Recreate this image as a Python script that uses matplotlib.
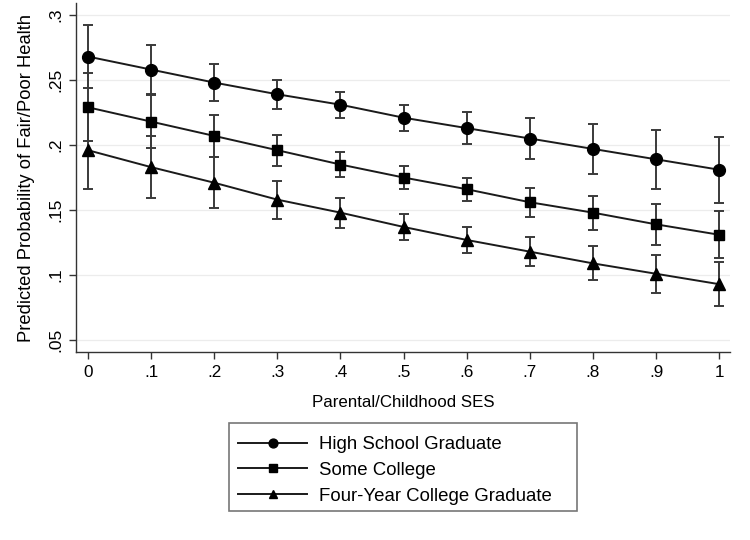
import matplotlib
matplotlib.use("Agg")
import matplotlib.pyplot as plt
from matplotlib.patches import Rectangle
import numpy as np

plt.rcParams['font.family'] = ['Liberation Sans', 'DejaVu Sans']

# ── Data ─────────────────────────────────────────────────────────────────────
ses = [0.0, 0.1, 0.2, 0.3, 0.4, 0.5, 0.6, 0.7, 0.8, 0.9, 1.0]

hs_prob = [0.268, 0.258, 0.248, 0.239, 0.231, 0.221, 0.213, 0.205, 0.197, 0.189, 0.181]
hs_err  = [0.024, 0.019, 0.0145, 0.011, 0.010, 0.010, 0.0125, 0.016, 0.019, 0.0225, 0.0255]

sc_prob = [0.229, 0.218, 0.207, 0.196, 0.185, 0.175, 0.166, 0.156, 0.148, 0.139, 0.131]
sc_err  = [0.026, 0.0205, 0.016, 0.012, 0.0098, 0.0085, 0.009, 0.011, 0.013, 0.0155, 0.018]

fy_prob = [0.196, 0.183, 0.171, 0.158, 0.148, 0.137, 0.127, 0.118, 0.109, 0.101, 0.093]
fy_err  = [0.030, 0.024, 0.0195, 0.0145, 0.0115, 0.010, 0.010, 0.011, 0.013, 0.0146, 0.017]

series_labels = ['High School Graduate', 'Some College', 'Four-Year College Graduate']
x_ticks = [0.0, 0.1, 0.2, 0.3, 0.4, 0.5, 0.6, 0.7, 0.8, 0.9, 1.0]
x_ticklabels = ['0', '.1', '.2', '.3', '.4', '.5', '.6', '.7', '.8', '.9', '1']
y_ticks = [0.05, 0.10, 0.15, 0.20, 0.25, 0.30]
y_ticklabels = ['.05', '.1', '.15', '.2', '.25', '.3']

# ── Figure ───────────────────────────────────────────────────────────────────
fig = plt.figure(figsize=(7.5, 5.4), dpi=100, facecolor='white')
ax = fig.add_axes([0.1013, 0.348, 0.872, 0.646])

series = [(hs_prob, hs_err, 'o', 8.5),
          (sc_prob, sc_err, 's', 7.5),
          (fy_prob, fy_err, '^', 8.0)]

handles = []
for (p, e, m, ms), lab in zip(series, series_labels):
    ax.errorbar(ses, p, yerr=e, fmt='none', ecolor='#3a3a3a',
                elinewidth=1.4, capsize=3.5, capthick=1.4, zorder=2)
    h, = ax.plot(ses, p, color='#1a1a1a', lw=1.4, marker=m, ms=ms,
                 mfc='black', mec='black', label=lab, zorder=3)
    handles.append(h)

ax.set_xlim(-0.019, 1.017)
ax.set_ylim(0.0408, 0.309)
ax.set_xticks(x_ticks)
ax.set_xticklabels(x_ticklabels, fontsize=12.3)
ax.set_yticks(y_ticks)
ax.set_yticklabels(y_ticklabels, fontsize=12.5, rotation=90, va='center')

for y in y_ticks:
    ax.axhline(y, color='#ececec', lw=0.9, zorder=0)

for s in ['top', 'right']:
    ax.spines[s].set_visible(False)
for s in ['left', 'bottom']:
    ax.spines[s].set_color('#333333')
    ax.spines[s].set_linewidth(1.0)
ax.tick_params(direction='out', length=5, width=1.0, color='#333333', pad=4)

ax.set_xlabel('Parental/Childhood SES', fontsize=12.2, labelpad=11)
ax.set_ylabel('Predicted Probability of Fair/Poor Health', fontsize=13.2, labelpad=10)

# ── Legend: entries without frame, box drawn separately (wider than content) ──
LX0, LY0, LW, LH = 229 / 750, 1 - 511 / 540, 348 / 750, 88 / 540
fig.patches.append(Rectangle((LX0, LY0), LW, LH, transform=fig.transFigure,
                             fill=False, edgecolor='#777777', lw=1.2))
leg = fig.legend(handles, series_labels, loc='upper left',
                 bbox_to_anchor=(LX0, LY0 + LH - 4 / 540),
                 fontsize=13.4, frameon=False, handlelength=3.7,
                 handletextpad=0.65, borderpad=0.5, labelspacing=0.46,
                 markerscale=0.75, borderaxespad=0)

fig.savefig('out.png', dpi=100, facecolor='white')
